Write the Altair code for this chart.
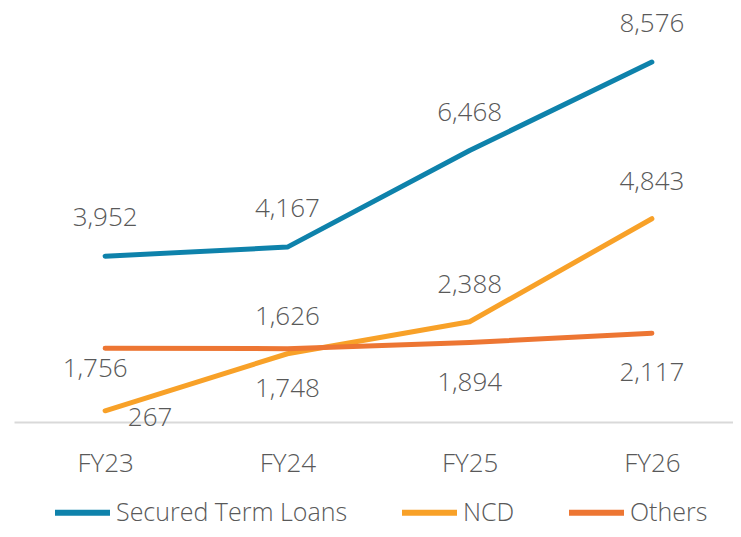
import altair as alt
import pandas as pd

years = ["FY23", "FY24", "FY25", "FY26"]
series = ["Secured Term Loans", "NCD", "Others"]
secured = [3952, 4167, 6468, 8576]
ncd = [267, 1626, 2388, 4843]
others = [1756, 1748, 1894, 2117]
colors = ["#0e82ab", "#f8a128", "#ed7633"]

FONT = "Open Sans"
GREY = "#595959"

rows = []
for s, vals in zip(series, [secured, ncd, others]):
    for y, v in zip(years, vals):
        rows.append({"year": y, "series": s, "value": v})
df = pd.DataFrame(rows)

x = alt.X("year:N", sort=years,
          scale=alt.Scale(type="point", padding=0.5, range=[0, 729]),
          axis=alt.Axis(title=None, labelAngle=0, ticks=False, grid=False,
                        domainColor="#d9d9d9", domainWidth=2,
                        labelFontSize=26, labelColor=GREY, labelFont=FONT,
                        labelFontWeight=300, labelPadding=28))
y = alt.Y("value:Q", scale=alt.Scale(domain=[0, 9864], nice=False), axis=None)

base = alt.Chart(df).encode(x=x, y=y)

lines = base.mark_line(strokeWidth=5, strokeCap="round", strokeJoin="round").encode(
    color=alt.Color("series:N", sort=series,
                    scale=alt.Scale(domain=series, range=colors),
                    legend=alt.Legend(title=None, orient="none", direction="horizontal",
                                      legendX=38, legendY=474,
                                      symbolType="stroke", symbolSize=3025,
                                      symbolStrokeWidth=6, labelFontSize=25,
                                      labelColor=GREY, labelFont=FONT,
                                      labelFontWeight=300, labelLimit=0,
                                      labelOffset=3, columnPadding=42, padding=0))
)

def labels(flt, dx=0, dy=0):
    return base.transform_filter(flt).mark_text(
        fontSize=26, font=FONT, fontWeight=300, color=GREY, dx=dx, dy=dy,
        baseline="middle"
    ).encode(text=alt.Text("value:Q", format=","))

t_sec = labels(alt.datum.series == "Secured Term Loans", dy=-38)
t_ncd = labels((alt.datum.series == "NCD") & (alt.datum.year != "FY23"), dy=-37)
t_ncd0 = labels((alt.datum.series == "NCD") & (alt.datum.year == "FY23"), dx=45, dy=7)
t_oth = labels((alt.datum.series == "Others") & (alt.datum.year != "FY23"), dy=40)
t_oth0 = labels((alt.datum.series == "Others") & (alt.datum.year == "FY23"), dx=-10, dy=21)

chart = alt.layer(lines, t_sec, t_ncd, t_ncd0, t_oth, t_oth0).properties(
    width=719, height=414,
    autosize=alt.AutoSizeParams(type="none"),
    padding={"left": 6, "top": 0, "right": 0, "bottom": 107},
).configure_view(stroke=None)

chart.save("out.html", embed_options={"renderer": "svg", "actions": False})
